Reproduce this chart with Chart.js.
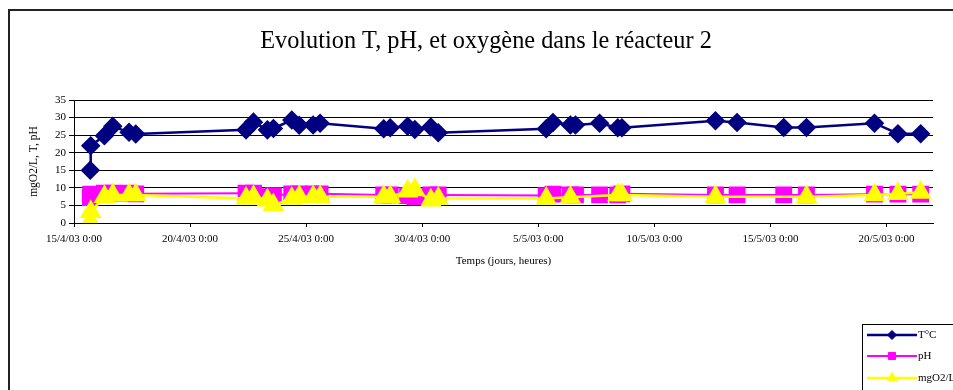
<!doctype html>
<html>

<head>
    <meta charset="utf-8">
    <title>Réacteur 2</title>
    <script src="https://cdn.jsdelivr.net/npm/chart.js"></script>
    <style>
        html, body { margin: 0; padding: 0; background: #fff; overflow: hidden; }
    </style>
</head>

<body>

    <canvas id="reacteur" width="953" height="390"></canvas>

    <script>
        // temps en jours depuis le 15/4/03 0:00
        var jours = [0.70, 0.72, 1.31, 1.67, 2.37, 2.66, 7.41, 7.73, 8.33, 8.59, 9.38, 9.70, 10.30, 10.60,
            13.34, 13.62, 14.37, 14.68, 15.37, 15.69, 20.34, 20.63, 21.38, 21.60, 22.64, 23.42, 23.60,
            27.63, 28.56, 30.57, 31.55, 34.48, 35.49, 36.47];

        var temperature = [15.0, 22.0, 24.8, 27.5, 25.8, 25.3, 26.5, 28.7, 26.5, 26.9, 29.3, 27.8, 27.9, 28.4,
            26.8, 27.1, 27.5, 26.6, 27.3, 25.7, 26.8, 28.6, 27.9, 27.9, 28.4, 27.1, 27.1,
            29.1, 28.6, 27.2, 27.2, 28.4, 25.4, 25.4];

        var ph = [7.2, 8.2, 8.5, 8.5, 8.5, 8.3, 8.5, 8.5, 7.5, 7.8, 8.3, 8.3, 8.3, 8.3,
            8.0, 8.0, 7.8, 7.5, 8.0, 8.0, 7.8, 8.2, 8.0, 8.0, 8.0, 8.0, 8.3,
            8.0, 8.0, 8.0, 8.0, 8.2, 8.2, 8.2];

        var oxygene = [0.4, 3.2, 7.5, 8.0, 8.0, 8.0, 7.0, 7.5, 6.5, 5.1, 7.0, 7.5, 7.5, 7.5,
            7.5, 7.5, 9.0, 9.4, 6.5, 7.0, 7.0, null, 7.3, null, null, 8.0, 8.0,
            7.5, null, null, 7.5, 8.0, 8.3, 8.7];

        var etiquettesX = ['15/4/03 0:00', '20/4/03 0:00', '25/4/03 0:00', '30/4/03 0:00',
            '5/5/03 0:00', '10/5/03 0:00', '15/5/03 0:00', '20/5/03 0:00'];

        var police = 'Liberation Serif, Times New Roman, serif';

        function points(valeurs) {
            return jours.map(function (j, i) { return { x: j, y: valeurs[i] }; });
        }

        // cadre + titre
        var cadre = {
            id: 'cadre',
            beforeDraw: function (chart) {
                var ctx = chart.ctx;
                ctx.save();
                ctx.fillStyle = '#fff';
                ctx.fillRect(0, 0, chart.width, chart.height);
                ctx.strokeStyle = '#222';
                ctx.lineWidth = 2;
                ctx.strokeRect(9, 10, 960, 400);
                ctx.fillStyle = '#000';
                ctx.font = '24.3px ' + police;
                ctx.textAlign = 'center';
                ctx.textBaseline = 'middle';
                ctx.fillText('Evolution T, pH, et oxygène dans le réacteur 2', 486, 42);
                ctx.restore();
            }
        };

        // légende en bas à droite
        var legende = {
            id: 'legende',
            afterDraw: function (chart) {
                var ctx = chart.ctx;
                var lignesY = [335, 356, 378];
                var rayons = [4.5, 5, 5.5];
                ctx.save();
                ctx.fillStyle = '#fff';
                ctx.fillRect(863, 325, 100, 70);
                ctx.strokeStyle = '#000';
                ctx.lineWidth = 1;
                ctx.strokeRect(862.5, 324.5, 110, 70);
                chart.data.datasets.forEach(function (ds, i) {
                    var y = lignesY[i];
                    ctx.strokeStyle = ds.borderColor;
                    ctx.lineWidth = ds.borderWidth;
                    ctx.beginPath();
                    ctx.moveTo(867, y);
                    ctx.lineTo(917, y);
                    ctx.stroke();
                    ctx.fillStyle = ds.pointBackgroundColor;
                    ctx.strokeStyle = ds.pointBorderColor;
                    ctx.lineWidth = 1;
                    Chart.helpers.drawPoint(ctx, {
                        pointStyle: ds.pointStyle, radius: rayons[i], rotation: 0, borderWidth: 1
                    }, 892, y);
                    ctx.fillStyle = '#000';
                    ctx.font = '11px ' + police;
                    ctx.textAlign = 'left';
                    ctx.textBaseline = 'middle';
                    ctx.fillText(ds.label, 918, y);
                });
                ctx.restore();
            }
        };

        var graphique = new Chart(document.getElementById('reacteur').getContext('2d'), {
            type: 'line',
            data: {
                datasets: [{
                    label: 'T°C',
                    data: points(temperature),
                    borderColor: '#000080',
                    borderWidth: 2.5,
                    pointStyle: 'rectRot',
                    pointRadius: 8,
                    pointBackgroundColor: '#000080',
                    pointBorderColor: '#000080',
                    order: 2
                }, {
                    label: 'pH',
                    data: points(ph),
                    borderColor: '#ff00ff',
                    borderWidth: 2,
                    pointStyle: 'rect',
                    pointRadius: 10.5,
                    pointBackgroundColor: '#ff00ff',
                    pointBorderColor: '#ff00ff',
                    order: 1
                }, {
                    label: 'mgO2/L',
                    data: points(oxygene),
                    borderColor: '#ffff00',
                    borderWidth: 2.5,
                    pointStyle: 'triangle',
                    pointRadius: 10,
                    pointBackgroundColor: '#ffff00',
                    pointBorderColor: '#ffff00',
                    spanGaps: true,
                    order: 0
                }]
            },
            plugins: [cadre, legende],
            options: {
                responsive: false,
                animation: false,
                layout: { padding: { left: 0, right: 20, top: 100, bottom: 0 } },
                elements: { line: { tension: 0 }, point: { borderWidth: 1, hoverRadius: 8 } },
                plugins: {
                    legend: { display: false },
                    title: { display: false },
                    tooltip: { enabled: false }
                },
                scales: {
                    x: {
                        type: 'linear',
                        min: 0,
                        max: 37,
                        ticks: {
                            stepSize: 5,
                            includeBounds: false,
                            autoSkip: false,
                            maxRotation: 0,
                            padding: 6,
                            color: '#000',
                            font: { family: police, size: 11 },
                            callback: function (valeur) { return etiquettesX[Math.round(valeur / 5)]; }
                        },
                        grid: { drawOnChartArea: false, drawTicks: true, tickLength: 4, color: '#000' },
                        border: { color: '#000', width: 1 },
                        title: {
                            display: true,
                            text: 'Temps (jours, heures)',
                            color: '#000',
                            font: { family: police, size: 11 },
                            padding: { top: 0, bottom: 122 }
                        },
                        afterFit: function (scale) { scale.height = 167; }
                    },
                    y: {
                        min: 0,
                        max: 35,
                        ticks: {
                            stepSize: 5,
                            padding: 3,
                            color: '#000',
                            font: { family: police, size: 11 }
                        },
                        grid: { color: '#000', lineWidth: 1, tickLength: 5 },
                        border: { color: '#000', width: 1 },
                        title: {
                            display: true,
                            text: 'mgO2/L, T, pH',
                            color: '#000',
                            font: { family: police, size: 11.5 },
                            padding: { top: 27, bottom: 0 }
                        },
                        afterFit: function (scale) { scale.width = 74; }
                    }
                }
            }
        });
    </script>
</body>

</html>
